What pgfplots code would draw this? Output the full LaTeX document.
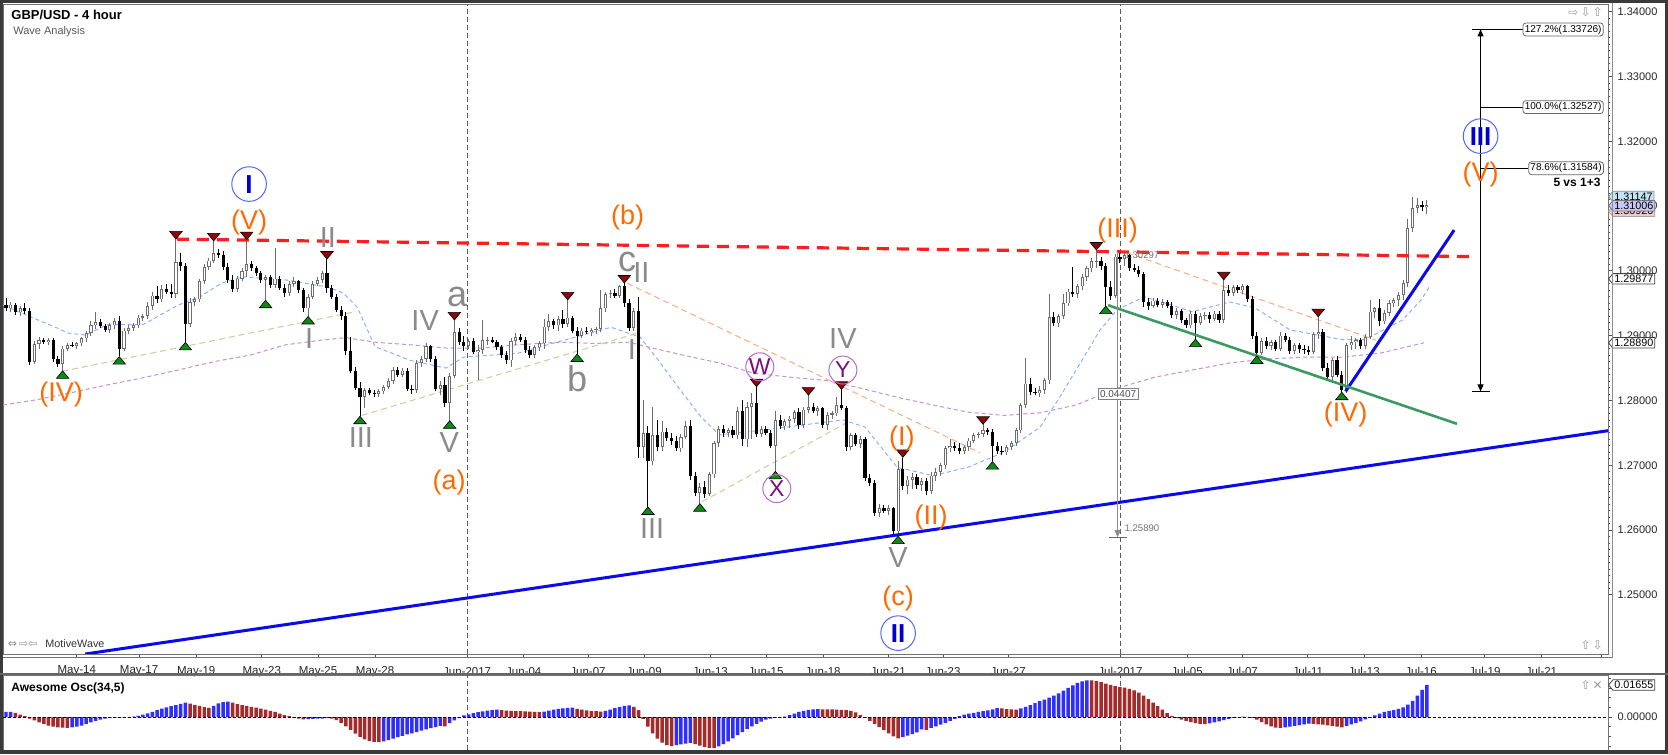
\documentclass[border=0pt]{standalone}
\usepackage{pgfplots}
\pgfplotsset{compat=1.18}
\usepackage{pgfplotstable}
\usepackage{fontspec}
\setmainfont{Liberation Sans}
\newfontfamily\symf{DejaVu Sans}
\usetikzlibrary{shapes.symbols,arrows.meta}

\definecolor{upgray}{HTML}{6E6E6E}
\definecolor{wred}{HTML}{FF1E1E}
\definecolor{tblue}{HTML}{0A0AEB}
\definecolor{tgreen}{HTML}{3C9A60}
\definecolor{worange}{HTML}{FF6A00}
\definecolor{wgray}{HTML}{8A8A8A}
\definecolor{wpurple}{HTML}{7E0A7E}
\definecolor{cpurple}{HTML}{B86CC8}
\definecolor{cblue}{HTML}{5068FF}
\definecolor{nblue}{HTML}{0000D0}
\definecolor{maBlue}{HTML}{8CB2FF}
\definecolor{maPurple}{HTML}{C88ED8}
\definecolor{peach}{HTML}{FFB088}
\definecolor{tancol}{HTML}{D6CE9A}
\definecolor{trigreen}{HTML}{0E8A16}
\definecolor{trired}{HTML}{8C0A0A}
\definecolor{aoblue}{HTML}{2E2EFF}
\definecolor{aored}{HTML}{A52A2A}
\definecolor{framedark}{HTML}{3A3A3A}
\definecolor{tagblue}{HTML}{C4E4F4}
\definecolor{taglav}{HTML}{C8C8F8}
\definecolor{tagpink}{HTML}{F4C8C8}

\pgfplotstableread{
o h l c
1.2948 1.2958 1.2938 1.2942
1.2942 1.2952 1.2936 1.2948
1.2948 1.2950 1.2932 1.2936
1.2936 1.2946 1.2930 1.2942
1.2942 1.2950 1.2934 1.2938
1.2938 1.2942 1.2855 1.2860
1.2860 1.2892 1.2856 1.2887
1.2887 1.2898 1.2880 1.2893
1.2893 1.2896 1.2887 1.2890
1.2890 1.2896 1.2886 1.2893
1.2893 1.2897 1.2860 1.2864
1.2864 1.2868 1.2852 1.2856
1.2856 1.2884 1.2846 1.2880
1.2880 1.2888 1.2876 1.2886
1.2886 1.2890 1.2882 1.2884
1.2884 1.2890 1.2880 1.2888
1.2888 1.2898 1.2884 1.2896
1.2896 1.2908 1.2890 1.2904
1.2904 1.2922 1.2900 1.2916
1.2916 1.2936 1.2910 1.2921
1.2921 1.2925 1.2912 1.2915
1.2915 1.2918 1.2906 1.2909
1.2909 1.2920 1.2904 1.2916
1.2916 1.2928 1.2910 1.2922
1.2922 1.2930 1.2868 1.2880
1.2880 1.2912 1.2876 1.2908
1.2908 1.2916 1.2902 1.2912
1.2912 1.2920 1.2908 1.2916
1.2916 1.2932 1.2912 1.2928
1.2928 1.2934 1.2922 1.2930
1.2930 1.2952 1.2926 1.2946
1.2946 1.2968 1.2940 1.2962
1.2962 1.2976 1.2950 1.2956
1.2956 1.2978 1.2952 1.2972
1.2972 1.2980 1.2964 1.2968
1.2968 1.2980 1.2958 1.2964
1.2964 1.3049 1.2958 1.3014
1.3014 1.3027 1.3000 1.3008
1.3008 1.3012 1.2890 1.2918
1.2918 1.2958 1.2914 1.2952
1.2952 1.2960 1.2946 1.2956
1.2956 1.2988 1.2952 1.2984
1.2984 1.3010 1.2980 1.3006
1.3006 1.3020 1.3002 1.3016
1.3016 1.3046 1.3012 1.3028
1.3028 1.3034 1.3020 1.3024
1.3024 1.3030 1.3002 1.3006
1.3006 1.3012 1.2982 1.2986
1.2986 1.2994 1.2968 1.2972
1.2972 1.2992 1.2968 1.2988
1.2988 1.3004 1.2984 1.3000
1.3000 1.3048 1.2990 1.3010
1.3010 1.3016 1.3000 1.3004
1.3004 1.3008 1.2992 1.2996
1.2996 1.3000 1.2982 1.2986
1.2986 1.2994 1.2955 1.2990
1.2990 1.2994 1.2974 1.2978
1.2978 1.3035 1.2974 1.2988
1.2988 1.2992 1.2970 1.2974
1.2974 1.2980 1.2960 1.2966
1.2966 1.2984 1.2962 1.2980
1.2980 1.2990 1.2975 1.2984
1.2984 1.2986 1.2966 1.2970
1.2970 1.2974 1.2936 1.2942
1.2942 1.2964 1.2930 1.2960
1.2960 1.2984 1.2956 1.2980
1.2980 1.2990 1.2976 1.2986
1.2986 1.3000 1.2982 1.2996
1.2996 1.3018 1.2966 1.2974
1.2974 1.2978 1.2956 1.2960
1.2960 1.2964 1.2936 1.2940
1.2940 1.2946 1.2924 1.2930
1.2930 1.2936 1.2870 1.2876
1.2876 1.2898 1.2842 1.2846
1.2846 1.2852 1.2816 1.2820
1.2820 1.2828 1.2776 1.2806
1.2806 1.2820 1.2788 1.2816
1.2816 1.2820 1.2808 1.2812
1.2812 1.2816 1.2806 1.2810
1.2810 1.2818 1.2806 1.2814
1.2814 1.2824 1.2810 1.2821
1.2821 1.2834 1.2818 1.2830
1.2830 1.2852 1.2826 1.2847
1.2847 1.2852 1.2836 1.2840
1.2840 1.2850 1.2836 1.2846
1.2846 1.2850 1.2814 1.2818
1.2818 1.2824 1.2810 1.2816
1.2816 1.2862 1.2812 1.2858
1.2858 1.2868 1.2852 1.2864
1.2864 1.2889 1.2860 1.2884
1.2884 1.2886 1.2860 1.2864
1.2864 1.2868 1.2814 1.2818
1.2818 1.2830 1.2808 1.2824
1.2824 1.2836 1.2790 1.2796
1.2796 1.2842 1.2769 1.2838
1.2838 1.2924 1.2834 1.2906
1.2906 1.2912 1.2885 1.2890
1.2890 1.2900 1.2876 1.2884
1.2884 1.2895 1.2880 1.2892
1.2892 1.2896 1.2872 1.2875
1.2875 1.2886 1.2832 1.2878
1.2878 1.2924 1.2872 1.2893
1.2893 1.2898 1.2886 1.2894
1.2894 1.2898 1.2888 1.2890
1.2890 1.2894 1.2878 1.2882
1.2882 1.2886 1.2866 1.2870
1.2870 1.2876 1.2856 1.2862
1.2862 1.2896 1.2852 1.2892
1.2892 1.2904 1.2886 1.2898
1.2898 1.2902 1.2890 1.2894
1.2894 1.2898 1.2874 1.2878
1.2878 1.2884 1.2866 1.2870
1.2870 1.2886 1.2866 1.2882
1.2882 1.2892 1.2876 1.2888
1.2888 1.2926 1.2880 1.2914
1.2914 1.2934 1.2908 1.2922
1.2922 1.2926 1.2910 1.2916
1.2916 1.2930 1.2908 1.2926
1.2926 1.2940 1.2912 1.2918
1.2918 1.2955 1.2914 1.2928
1.2928 1.2930 1.2904 1.2908
1.2908 1.2914 1.2872 1.2900
1.2900 1.2912 1.2896 1.2908
1.2908 1.2914 1.2902 1.2906
1.2906 1.2912 1.2900 1.2909
1.2909 1.2914 1.2902 1.2910
1.2910 1.2970 1.2906 1.2942
1.2942 1.2968 1.2936 1.2964
1.2964 1.2970 1.2958 1.2966
1.2966 1.2972 1.2958 1.2962
1.2962 1.2978 1.2958 1.2976
1.2976 1.2981 1.2945 1.2950
1.2950 1.2956 1.2908 1.2912
1.2912 1.2942 1.2908 1.2938
1.2938 1.2960 1.2712 1.2728
1.2728 1.2801 1.2712 1.2750
1.2750 1.2760 1.2636 1.2706
1.2706 1.2790 1.2700 1.2746
1.2746 1.2770 1.2722 1.2728
1.2728 1.2768 1.2722 1.2752
1.2752 1.2758 1.2738 1.2742
1.2742 1.2750 1.2732 1.2738
1.2738 1.2745 1.2722 1.2726
1.2726 1.2748 1.2720 1.2744
1.2744 1.2768 1.2740 1.2760
1.2760 1.2770 1.2678 1.2684
1.2684 1.2690 1.2652 1.2658
1.2658 1.2672 1.2641 1.2666
1.2666 1.2676 1.2650 1.2656
1.2656 1.2690 1.2652 1.2686
1.2686 1.2738 1.2680 1.2734
1.2734 1.2760 1.2728 1.2756
1.2756 1.2762 1.2744 1.2750
1.2750 1.2758 1.2744 1.2754
1.2754 1.2760 1.2742 1.2746
1.2746 1.2790 1.2740 1.2784
1.2784 1.2800 1.2730 1.2740
1.2740 1.2798 1.2728 1.2790
1.2790 1.2812 1.2740 1.2796
1.2796 1.2821 1.2744 1.2748
1.2748 1.2760 1.2744 1.2756
1.2756 1.2760 1.2746 1.2750
1.2750 1.2754 1.2726 1.2730
1.2730 1.2784 1.2691 1.2770
1.2770 1.2778 1.2756 1.2760
1.2760 1.2772 1.2754 1.2768
1.2768 1.2776 1.2758 1.2772
1.2772 1.2786 1.2766 1.2782
1.2782 1.2788 1.2756 1.2762
1.2762 1.2790 1.2758 1.2786
1.2786 1.2808 1.2780 1.2790
1.2790 1.2796 1.2780 1.2784
1.2784 1.2792 1.2776 1.2788
1.2788 1.2790 1.2758 1.2762
1.2762 1.2782 1.2754 1.2778
1.2778 1.2784 1.2772 1.2780
1.2780 1.2806 1.2776 1.2793
1.2793 1.2817 1.2786 1.2788
1.2788 1.2792 1.2722 1.2728
1.2728 1.2750 1.2724 1.2746
1.2746 1.2750 1.2730 1.2733
1.2733 1.2745 1.2726 1.2740
1.2740 1.2744 1.2676 1.2681
1.2681 1.2686 1.2668 1.2672
1.2672 1.2678 1.2622 1.2627
1.2627 1.2640 1.2620 1.2634
1.2634 1.2638 1.2626 1.2630
1.2630 1.2638 1.2624 1.2634
1.2634 1.2636 1.2594 1.2598
1.2598 1.2706 1.2591 1.2694
1.2694 1.2712 1.2662 1.2668
1.2668 1.2684 1.2656 1.2678
1.2678 1.2688 1.2664 1.2682
1.2682 1.2686 1.2664 1.2670
1.2670 1.2680 1.2660 1.2676
1.2676 1.2680 1.2654 1.2660
1.2660 1.2690 1.2655 1.2684
1.2684 1.2696 1.2676 1.2690
1.2690 1.2704 1.2684 1.2700
1.2700 1.2730 1.2694 1.2726
1.2726 1.2740 1.2720 1.2730
1.2730 1.2736 1.2722 1.2726
1.2726 1.2734 1.2718 1.2722
1.2722 1.2732 1.2718 1.2728
1.2728 1.2742 1.2722 1.2738
1.2738 1.2750 1.2734 1.2746
1.2746 1.2752 1.2742 1.2748
1.2748 1.2763 1.2744 1.2754
1.2754 1.2758 1.2746 1.2752
1.2752 1.2756 1.2706 1.2730
1.2730 1.2736 1.2718 1.2722
1.2722 1.2730 1.2716 1.2720
1.2720 1.2732 1.2716 1.2728
1.2728 1.2738 1.2724 1.2734
1.2734 1.2758 1.2730 1.2754
1.2754 1.2796 1.2750 1.2793
1.2793 1.2865 1.2788 1.2826
1.2826 1.2834 1.2808 1.2813
1.2813 1.2820 1.2808 1.2811
1.2811 1.2822 1.2806 1.2816
1.2816 1.2834 1.2810 1.2831
1.2831 1.2965 1.2826 1.2929
1.2929 1.2936 1.2915 1.2919
1.2919 1.2934 1.2914 1.2930
1.2930 1.2965 1.2926 1.2950
1.2950 1.2972 1.2946 1.2968
1.2968 1.3006 1.2960 1.2964
1.2964 1.2980 1.2958 1.2976
1.2976 1.2995 1.2970 1.2991
1.2991 1.3008 1.2985 1.3004
1.3004 1.3020 1.2998 1.3015
1.3015 1.3032 1.3005 1.3016
1.3016 1.3022 1.3002 1.3008
1.3008 1.3012 1.2946 1.2975
1.2975 1.2985 1.2955 1.2962
1.2962 1.3026 1.2958 1.3022
1.3022 1.3030 1.3012 1.3018
1.3018 1.3028 1.3008 1.3024
1.3024 1.3026 1.3000 1.3004
1.3004 1.3010 1.2998 1.3002
1.3002 1.3008 1.2990 1.2995
1.2995 1.2998 1.2945 1.2952
1.2952 1.2958 1.2940 1.2946
1.2946 1.2958 1.2942 1.2954
1.2954 1.2958 1.2944 1.2948
1.2948 1.2956 1.2942 1.2952
1.2952 1.2955 1.2942 1.2946
1.2946 1.2952 1.2928 1.2932
1.2932 1.2942 1.2926 1.2938
1.2938 1.2941 1.2920 1.2924
1.2924 1.2928 1.2912 1.2916
1.2916 1.2938 1.2912 1.2934
1.2934 1.2938 1.2895 1.2920
1.2920 1.2935 1.2916 1.2930
1.2930 1.2936 1.2924 1.2932
1.2932 1.2936 1.2920 1.2926
1.2926 1.2938 1.2922 1.2934
1.2934 1.2938 1.2920 1.2924
1.2924 1.2986 1.2920 1.2970
1.2970 1.2978 1.2962 1.2966
1.2966 1.2978 1.2962 1.2975
1.2975 1.2978 1.2966 1.2970
1.2970 1.2980 1.2964 1.2976
1.2976 1.2978 1.2952 1.2956
1.2956 1.2962 1.2895 1.2900
1.2900 1.2906 1.2869 1.2874
1.2874 1.2896 1.2870 1.2892
1.2892 1.2898 1.2880 1.2884
1.2884 1.2894 1.2878 1.2890
1.2890 1.2894 1.2876 1.2880
1.2880 1.2906 1.2876 1.2900
1.2900 1.2904 1.2890 1.2894
1.2894 1.2898 1.2872 1.2876
1.2876 1.2888 1.2872 1.2885
1.2885 1.2888 1.2874 1.2880
1.2880 1.2886 1.2872 1.2878
1.2878 1.2884 1.2870 1.2875
1.2875 1.2906 1.2872 1.2902
1.2902 1.2929 1.2895 1.2906
1.2906 1.2910 1.2845 1.2850
1.2850 1.2858 1.2830 1.2836
1.2836 1.2866 1.2832 1.2862
1.2862 1.2868 1.2836 1.2840
1.2840 1.2846 1.2813 1.2816
1.2816 1.2888 1.2812 1.2885
1.2885 1.2900 1.2878 1.2890
1.2890 1.2896 1.2880 1.2893
1.2893 1.2897 1.2880 1.2884
1.2884 1.2902 1.2880 1.2898
1.2898 1.2955 1.2895 1.2937
1.2937 1.2945 1.2928 1.2942
1.2942 1.2956 1.2915 1.2922
1.2922 1.2940 1.2918 1.2935
1.2935 1.2955 1.2930 1.2950
1.2950 1.2958 1.2945 1.2955
1.2955 1.2968 1.2946 1.2963
1.2963 1.2986 1.2955 1.2981
1.2981 1.3080 1.2975 1.3066
1.3066 1.3114 1.3060 1.3097
1.3097 1.3112 1.3090 1.3102
1.3102 1.3108 1.3092 1.3098
1.3098 1.3110 1.3088 1.3101
}\candles

\pgfplotstableread{
v c
0.0026 1
0.0027 1
0.0022 0
0.0012 0
0.0004 0
-0.0008 0
-0.0018 0
-0.0028 0
-0.0036 0
-0.0044 0
-0.0050 0
-0.0054 0
-0.0055 0
-0.0056 0
-0.0054 1
-0.0050 1
-0.0044 1
-0.0036 1
-0.0028 1
-0.0020 1
-0.0014 1
-0.0008 1
-0.0004 1
-0.0005 0
-0.0004 1
-0.0003 1
-0.0001 1
0.0002 1
0.0006 1
0.0012 1
0.0019 1
0.0027 1
0.0035 1
0.0043 1
0.0050 1
0.0056 1
0.0062 1
0.0068 1
0.0074 1
0.0069 0
0.0063 0
0.0057 0
0.0051 0
0.0047 0
0.0058 1
0.0070 1
0.0077 1
0.0079 1
0.0074 0
0.0067 0
0.0061 0
0.0057 0
0.0053 0
0.0048 0
0.0043 0
0.0038 0
0.0032 0
0.0026 0
0.0018 0
0.0010 0
0.0004 0
-0.0004 0
-0.0008 0
-0.0012 0
-0.0011 1
-0.0010 1
-0.0009 1
-0.0008 1
-0.0006 1
-0.0008 0
-0.0016 0
-0.0030 0
-0.0048 0
-0.0067 0
-0.0086 0
-0.0103 0
-0.0116 0
-0.0124 0
-0.0129 0
-0.0130 0
-0.0126 1
-0.0120 1
-0.0112 1
-0.0104 1
-0.0097 1
-0.0090 1
-0.0084 1
-0.0078 1
-0.0071 1
-0.0064 1
-0.0058 1
-0.0052 1
-0.0046 1
-0.0049 0
-0.0032 1
-0.0018 1
-0.0006 1
0.0008 1
0.0014 1
0.0020 1
0.0025 1
0.0029 1
0.0033 1
0.0036 1
0.0038 1
0.0035 0
0.0033 0
0.0032 0
0.0031 0
0.0030 0
0.0029 0
0.0028 0
0.0027 0
0.0025 0
0.0028 1
0.0033 1
0.0038 1
0.0042 1
0.0045 1
0.0047 1
0.0048 1
0.0042 0
0.0038 0
0.0034 0
0.0031 0
0.0030 0
0.0028 0
0.0032 1
0.0038 1
0.0046 1
0.0053 1
0.0058 1
0.0060 1
0.0052 0
0.0036 0
-0.0010 0
-0.0050 0
-0.0085 0
-0.0112 0
-0.0132 0
-0.0145 0
-0.0150 0
-0.0146 1
-0.0142 1
-0.0138 1
-0.0134 1
-0.0140 0
-0.0148 0
-0.0154 0
-0.0159 0
-0.0161 0
-0.0152 1
-0.0140 1
-0.0126 1
-0.0110 1
-0.0094 1
-0.0078 1
-0.0062 1
-0.0048 1
-0.0036 1
-0.0024 1
-0.0014 1
-0.0008 1
-0.0005 1
-0.0003 1
0.0002 1
0.0010 1
0.0018 1
0.0026 1
0.0032 1
0.0037 1
0.0040 1
0.0041 1
0.0040 0
0.0039 0
0.0039 0
0.0038 0
0.0037 0
0.0036 0
0.0032 0
0.0024 0
0.0010 0
-0.0004 0
-0.0020 0
-0.0036 0
-0.0052 0
-0.0068 0
-0.0085 0
-0.0100 0
-0.0110 0
-0.0104 1
-0.0096 1
-0.0088 1
-0.0080 1
-0.0064 1
-0.0066 0
-0.0056 1
-0.0048 1
-0.0040 1
-0.0030 1
-0.0020 1
-0.0010 1
0.0004 1
0.0012 1
0.0018 1
0.0022 1
0.0026 1
0.0030 1
0.0034 1
0.0040 1
0.0046 1
0.0044 0
0.0041 0
0.0039 0
0.0038 0
0.0044 1
0.0052 1
0.0062 1
0.0072 1
0.0082 1
0.0090 1
0.0100 1
0.0110 1
0.0122 1
0.0136 1
0.0150 1
0.0164 1
0.0176 1
0.0184 1
0.0190 1
0.0189 0
0.0186 0
0.0180 0
0.0172 0
0.0166 0
0.0160 0
0.0156 0
0.0152 0
0.0146 0
0.0138 0
0.0126 0
0.0110 0
0.0092 0
0.0074 0
0.0056 0
0.0038 0
0.0020 0
0.0006 0
-0.0006 0
-0.0014 0
-0.0020 0
-0.0026 0
-0.0031 0
-0.0035 0
-0.0037 0
-0.0033 1
-0.0028 1
-0.0022 1
-0.0016 1
-0.0010 1
-0.0005 1
-0.0002 1
0.0002 1
0.0001 0
-0.0004 0
-0.0014 0
-0.0026 0
-0.0038 0
-0.0048 0
-0.0055 0
-0.0056 0
-0.0053 1
-0.0050 1
-0.0046 1
-0.0042 1
-0.0038 1
-0.0034 1
-0.0036 0
-0.0038 0
-0.0040 0
-0.0043 0
-0.0046 0
-0.0050 0
-0.0053 0
-0.0046 1
-0.0038 1
-0.0030 1
-0.0022 1
-0.0012 1
-0.0004 1
0.0008 1
0.0018 1
0.0026 1
0.0032 1
0.0036 1
0.0042 1
0.0050 1
0.0064 1
0.0084 1
0.0110 1
0.0140 1
0.0166 1
}\ao

\tikzset{
  wlab/.style={font=\fontsize{13.5}{14}\selectfont, text=worange, inner sep=0pt},
  glab/.style={font=\fontsize{14.5}{15}\selectfont, text=wgray, inner sep=0pt},
  gsml/.style={font=\fontsize{18}{19}\selectfont, text=wgray, inner sep=0pt},
  pcirc/.style={circle, draw=cpurple, line width=0.5pt, minimum size=14pt, inner sep=0pt, font=\fontsize{11.5}{12}\selectfont, text=wpurple},
  bcirc/.style={circle, draw=cblue, line width=0.5pt, minimum size=17.3pt, inner sep=0pt, font=\bfseries\fontsize{13}{14}\selectfont, text=nblue},
  fibbox/.style={draw=black!60, rounded corners=1.5pt, fill=white, anchor=west, inner sep=0.9pt, font=\fontsize{5}{5.5}\selectfont, line width=0.4pt},
  ptag/.style={signal, signal to=west, signal pointer angle=100, draw=black!75, fill=white, anchor=west, inner sep=0.7pt, font=\fontsize{5.4}{6}\selectfont, line width=0.4pt}
}

\begin{document}
\begin{tikzpicture}[x=1pt,y=1pt]
\fill[white] (0,0) rectangle (834,377);

\begin{axis}[
  at={(1.5pt,50pt)}, anchor=south west, scale only axis,
  width=802.5pt, height=325pt,
  xmin=-0.636, xmax=339.4, ymin=1.24088, ymax=1.341188,
  clip mode=individual,
  axis line style={draw=black!55, line width=0.4pt},
  xtick={15.0,28.2,40.3,54.2,66.1,78.2,97.7,109.7,123.3,135.2,149.2,161.0,173.1,186.9,198.5,212.3,236.1,250.2,261.9,275.8,287.7,299.8,313.3,325.3,338.1},
  xticklabels={May-14,May-17,May-19,May-23,May-25,May-28,Jun-2017,Jun-04,Jun-07,Jun-09,Jun-13,Jun-15,Jun-18,Jun-21,Jun-23,Jun-27,Jul-2017,Jul-05,Jul-07,Jul-11,Jul-13,Jul-16,Jul-19,Jul-21,},
  xtick pos=left, xtick align=outside,
  major tick length=2pt, minor tick length=1.2pt,
  tick style={black!70, line width=0.4pt},
  xticklabel style={font=\fontsize{5.75}{6}\selectfont, anchor=center, yshift=-6.6pt, text=black!85},
  ytick={1.25,1.26,1.27,1.28,1.29,1.30,1.31,1.32,1.33,1.34},
  minor y tick num=9,
  ytick pos=right, yticklabel pos=right, ytick align=outside,
  yticklabel style={font=\fontsize{5.5}{6}\selectfont, anchor=west, inner sep=0pt, xshift=2.6pt, text=black!85},
  yticklabel={\pgfmathprintnumber[fixed,fixed zerofill,precision=5,assume math mode=true]{\tick}},
  scaled y ticks=false,
]
% month separators
\addplot[black!65, dash pattern=on 2.5pt off 1.5pt, line width=0.45pt, forget plot] coordinates {(97.7,1.24088) (97.7,1.341188)};
\addplot[black!65, dash pattern=on 2.5pt off 1.5pt, line width=0.45pt, forget plot] coordinates {(236.1,1.24088) (236.1,1.341188)};

% moving averages
\addplot[maBlue, dash pattern=on 2pt off 1.5pt, line width=0.5pt, forget plot] coordinates {
(-0.6,1.2947) (10.8,1.2912) (13.1,1.2904) (16.9,1.2901) (21.4,1.2917) (29.0,1.2917) (36.4,1.2947) (41.1,1.2960) (45.6,1.2981) (50.2,1.2991) (59.3,1.2986) (68.2,1.2975) (71.4,1.2966) (74.4,1.2944) (78.2,1.2883) (85.6,1.2862) (93.2,1.2850) (97.0,1.2867) (108.5,1.2873) (116.7,1.2890) (128.2,1.2913) (134.3,1.2898) (138.1,1.2863) (143.4,1.2811) (147.2,1.2775) (151.1,1.2747) (160.0,1.2754) (177.3,1.2770) (182.0,1.2759) (188.8,1.2697) (196.4,1.2684) (203.8,1.2697) (211.4,1.2720) (219.1,1.2759) (222.9,1.2801) (226.7,1.2847) (231.8,1.2909) (235.4,1.2940) (241.1,1.2960) (245.8,1.2950) (251.3,1.2937) (259.3,1.2952) (264.6,1.2943) (272.0,1.2909) (283.1,1.2894) (287.9,1.2894) (295.8,1.2924) (299.8,1.2955) (301.5,1.2975)};
\addplot[maPurple, dash pattern=on 2pt off 1.5pt, line width=0.5pt, forget plot] coordinates {
(-0.6,1.2793) (6.4,1.2801) (13.8,1.2812) (21.4,1.2824) (29.0,1.2835) (36.4,1.2847) (44.1,1.2860) (51.7,1.2870) (59.3,1.2886) (66.7,1.2893) (72.0,1.2897) (78.2,1.2890) (85.6,1.2886) (93.2,1.2881) (100.8,1.2881) (108.5,1.2886) (117.4,1.2890) (124.6,1.2888) (132.0,1.2890) (135.8,1.2883) (143.4,1.2870) (151.1,1.2858) (158.5,1.2842) (166.1,1.2836) (173.7,1.2831) (181.1,1.2819) (188.8,1.2805) (196.4,1.2793) (203.8,1.2782) (211.4,1.2777) (219.1,1.2781) (226.7,1.2793) (235.4,1.2819) (243.4,1.2836) (251.3,1.2847) (259.3,1.2858) (267.2,1.2864) (275.2,1.2867) (283.1,1.2867) (291.1,1.2873) (300.4,1.2889)};

% thin dashed helper lines
\addplot[tancol, dash pattern=on 3pt off 2pt, line width=0.55pt, forget plot] coordinates {(11.9,1.2845) (73.3,1.2936)};
\addplot[tancol, dash pattern=on 3pt off 2pt, line width=0.55pt, forget plot] coordinates {(75.4,1.2777) (134.3,1.2905)};
\addplot[tancol, dash pattern=on 3pt off 2pt, line width=0.55pt, forget plot] coordinates {(147.5,1.2644) (179.2,1.2770)};
\addplot[peach, dash pattern=on 3pt off 2pt, line width=0.55pt, forget plot] coordinates {(131.6,1.2981) (206.4,1.2719)};
\addplot[peach, dash pattern=on 3pt off 2pt, line width=0.55pt, forget plot] coordinates {(237.5,1.3028) (290.3,1.2893)};

% candles: wicks
\addplot[draw=none, mark=none, forget plot, error bars/.cd, y dir=plus, y explicit, error mark=none,
  error bar style={draw=upgray, line width=0.5pt}]
  table[x expr={\thisrow{c}>=\thisrow{o} ? \coordindex : -3}, y=l, y error plus expr={\thisrow{h}-\thisrow{l}}] {\candles};
\addplot[draw=none, mark=none, forget plot, error bars/.cd, y dir=plus, y explicit, error mark=none,
  error bar style={draw=black, line width=0.5pt}]
  table[x expr={\thisrow{c}<\thisrow{o} ? \coordindex : -3}, y=l, y error plus expr={\thisrow{h}-\thisrow{l}}] {\candles};
% candles: bodies
\addplot[draw=none, mark=none, forget plot, error bars/.cd, y dir=plus, y explicit, error mark=none,
  error bar style={draw=upgray, line width=1.6pt}]
  table[x expr={\thisrow{c}>=\thisrow{o} ? \coordindex : -3}, y=o, y error plus expr={\thisrow{c}-\thisrow{o}}] {\candles};
\addplot[draw=none, mark=none, forget plot, error bars/.cd, y dir=plus, y explicit, error mark=none,
  error bar style={draw=white, line width=0.6pt}]
  table[x expr={\thisrow{c}>=\thisrow{o} ? \coordindex : -3}, y expr={\thisrow{o}+0.00012}, y error plus expr={max(\thisrow{c}-\thisrow{o}-0.00024,0)}] {\candles};
\addplot[draw=none, mark=none, forget plot, error bars/.cd, y dir=plus, y explicit, error mark=none,
  error bar style={draw=black, line width=1.6pt}]
  table[x expr={\thisrow{c}<\thisrow{o} ? \coordindex : -3}, y=c, y error plus expr={\thisrow{o}-\thisrow{c}}] {\candles};

% trend lines
\addplot[wred, line width=1.6pt, dash pattern=on 6pt off 4pt, forget plot] coordinates {(36.2,1.3049) (311.4,1.3022)};
\addplot[tblue, line width=1.5pt, forget plot] coordinates {(16.8,1.24088) (339.4,1.27534)};
\addplot[tblue, line width=1.5pt, forget plot] coordinates {(283.8,1.2814) (306.8,1.3063)};
\addplot[tgreen, line width=1.3pt, forget plot] coordinates {(233.5,1.2947) (307.4,1.2764)};

% swing markers
\addplot[only marks, mark=triangle*, mark size=3.6pt, mark options={fill=trigreen, draw=black, line width=0.3pt, yscale=0.7}, forget plot] coordinates {
(12,1.2838) (24,1.2860) (38,1.2882) (55,1.2947) (64,1.2922) (75,1.2768) (94,1.2761) (121,1.2864) (136,1.2628) (147,1.2633) (163,1.2683) (189,1.2583) (209,1.2698) (233,1.2938) (252,1.2887) (265,1.2861) (283,1.2805)};
\addplot[only marks, mark=triangle*, mark size=3.6pt, mark options={fill=trired, draw=black, line width=0.3pt, rotate=180, yscale=0.7}, forget plot] coordinates {
(36,1.3057) (44,1.3054) (51,1.3056) (68,1.3026) (95,1.2932) (119,1.2963) (131,1.2989) (159,1.2829) (170,1.2816) (177,1.2825) (190,1.2720) (207,1.2771) (231,1.3040) (258,1.2994) (278,1.2937)};

% measure tool
\addplot[black!45, line width=0.5pt, -{Triangle[length=3.5pt,width=3pt]}, forget plot] coordinates {(235.5,1.30297) (235.5,1.2589)};
\addplot[black!60, line width=0.5pt, forget plot] coordinates {(233.7,1.2589) (237.5,1.2589)};
\node[draw=black!50, fill=white, inner sep=0.9pt, font=\fontsize{5}{5.5}\selectfont, text=black!70] at (axis cs:235.6,1.2810) {0.04407};
\node[anchor=west, inner sep=0pt, font=\fontsize{4.8}{5}\selectfont, text=black!55] at (axis cs:236.9,1.2603) {1.25890};
\node[anchor=west, inner sep=0pt, font=\fontsize{4.8}{5}\selectfont, text=black!55] at (axis cs:236.9,1.3024) {1.30297};

% fibonacci projection
\addplot[black, line width=0.5pt, {Triangle[length=3.5pt,width=3pt]}-{Triangle[length=3.5pt,width=3pt]}, forget plot] coordinates {(312.4,1.28140) (312.4,1.33726)};
\addplot[black, line width=0.6pt, forget plot] coordinates {(310.6,1.33726) (314.3,1.33726)};
\addplot[black, line width=0.6pt, forget plot] coordinates {(310.6,1.28140) (314.3,1.28140)};
\addplot[black, line width=0.45pt, forget plot] coordinates {(312.4,1.33726) (321.3,1.33726)};
\addplot[black, line width=0.45pt, forget plot] coordinates {(312.4,1.32527) (321.3,1.32527)};
\addplot[black, line width=0.45pt, forget plot] coordinates {(312.4,1.31584) (322.5,1.31584)};
\node[fibbox] at (axis cs:321.3,1.33726) {127.2\%(1.33726)};
\node[fibbox] at (axis cs:321.3,1.32527) {100.0\%(1.32527)};
\node[fibbox] at (axis cs:322.5,1.31584) {78.6\%(1.31584)};
\node[anchor=east, inner sep=0pt, font=\bfseries\fontsize{6}{6.5}\selectfont] at (axis cs:337.9,1.3137) {5 vs 1+3};

% orange wave labels
\node[wlab] at (axis cs:11.7,1.2809) {(IV)};
\node[wlab] at (axis cs:51.5,1.3074) {(V)};
\node[wlab] at (axis cs:93.9,1.2673) {(a)};
\node[wlab] at (axis cs:131.7,1.3083) {(b)};
\node[wlab] at (axis cs:189.8,1.2742) {(I)};
\node[wlab] at (axis cs:196,1.2619) {(II)};
\node[wlab] at (axis cs:189,1.2495) {(c)};
\node[wlab] at (axis cs:235.5,1.3063) {(III)};
\node[wlab] at (axis cs:283.8,1.2778) {(IV)};
\node[wlab] at (axis cs:312.4,1.3148) {(V)};

% gray wave labels
\node[glab] at (axis cs:68.2,1.3051) {II};
\node[glab] at (axis cs:64.2,1.2896) {I};
\node[glab] at (axis cs:75.2,1.2743) {III};
\node[glab] at (axis cs:88.8,1.2924) {IV};
\node[glab] at (axis cs:93.9,1.2735) {V};
\node[gsml] at (axis cs:95.6,1.2960) {a};
\node[gsml] at (axis cs:121,1.2834) {b};
\node[gsml] at (axis cs:131.6,1.3014) {c};
\node[glab] at (axis cs:134.6,1.2997) {II};
\node[glab] at (axis cs:132.6,1.2878) {I};
\node[glab] at (axis cs:136.9,1.2603) {III};
\node[glab] at (axis cs:177.3,1.2896) {IV};
\node[glab] at (axis cs:189,1.2557) {V};

% circled labels
\node[pcirc] at (axis cs:159.7,1.2852) {W};
\node[pcirc] at (axis cs:163.3,1.2664) {X};
\node[pcirc] at (axis cs:177.3,1.2847) {Y};
\node[bcirc] at (axis cs:51.5,1.3134) {I};
\node[bcirc] at (axis cs:189,1.2441) {II};
\node[bcirc] at (axis cs:312.4,1.3208) {III};

% price tags on the right scale
\node[ptag, fill=tagblue, draw=black!45] at (axis cs:339.4,1.31147) {1.31147};
\node[ptag, fill=tagpink, draw=black!35] at (axis cs:339.4,1.30920) {1.30920};
\node[ptag, fill=taglav, draw=black!55] at (axis cs:339.4,1.31006) {1.31006};
\node[ptag] at (axis cs:339.4,1.29877) {1.29877};
\node[ptag] at (axis cs:339.4,1.28890) {1.28890};
\end{axis}

% Awesome oscillator panel
\begin{axis}[
  at={(1.5pt,2pt)}, anchor=south west, scale only axis,
  width=802.5pt, height=37.5pt,
  xmin=-0.636, xmax=339.4, ymin=-0.01706, ymax=0.02172,
  clip mode=individual,
  axis line style={draw=black!55, line width=0.4pt},
  xtick=\empty,
  ytick={0}, yticklabels={0.00000},
  minor ytick={-0.015,-0.01,-0.005,0.005,0.01,0.015,0.02},
  ytick pos=right, yticklabel pos=right, ytick align=outside,
  major tick length=2pt, minor tick length=1.5pt,
  tick style={black!70, line width=0.4pt},
  yticklabel style={font=\fontsize{5.5}{6}\selectfont, anchor=west, inner sep=0pt, xshift=2.6pt, text=black!85},
  scaled y ticks=false,
]
\addplot[black!65, dash pattern=on 2.5pt off 1.5pt, line width=0.45pt, forget plot] coordinates {(97.7,-0.01706) (97.7,0.02172)};
\addplot[black!65, dash pattern=on 2.5pt off 1.5pt, line width=0.45pt, forget plot] coordinates {(236.1,-0.01706) (236.1,0.02172)};
\addplot[ybar, bar width=0.74, bar shift=0pt, fill=aoblue, draw=none, forget plot]
  table[x expr=\coordindex, y expr={\thisrow{v}*\thisrow{c}}] {\ao};
\addplot[ybar, bar width=0.74, bar shift=0pt, fill=aored, draw=none, forget plot]
  table[x expr=\coordindex, y expr={\thisrow{v}*(1-\thisrow{c})}] {\ao};
\addplot[black, dash pattern=on 1.5pt off 1pt, line width=0.45pt, forget plot] coordinates {(-0.6,0) (339.4,0)};
\node[anchor=west, inner sep=0pt, font=\bfseries\fontsize{6}{6.5}\selectfont] at (axis cs:1.06,0.0150) {Awesome Osc(34,5)};
\node[ptag] at (axis cs:339.4,0.01655) {0.01655};
\end{axis}

% frame and chrome
\fill[framedark] (0,375.5) rectangle (834,377);
\fill[framedark] (0,0) rectangle (1.5,377);
\fill[framedark] (832.3,0) rectangle (834,377);
\fill[framedark] (0,0) rectangle (834,1.8);
\fill[black!60] (0,39.6) rectangle (834,40.6);
\draw[black!55, line width=0.5pt] (1.5,48) -- (806,48);
\draw[black!45, line width=0.4pt] (806,48) -- (806,375.5);

\node[anchor=west, inner sep=0pt, font=\bfseries\fontsize{6.5}{7}\selectfont] at (5.5,369.5) {GBP/USD - 4 hour};
\node[anchor=west, inner sep=0pt, font=\fontsize{5.5}{6}\selectfont, text=black!65] at (6.5,361) {Wave Analysis};
\node[anchor=west, inner sep=0pt, font=\symf\fontsize{5.5}{6}\selectfont, text=black!45] at (3.8,55) {⇔\,⇨⇦};
\node[anchor=west, inner sep=0pt, font=\fontsize{5.4}{6}\selectfont, text=black!80] at (22.5,55) {MotiveWave};
\node[anchor=east, inner sep=0pt, font=\symf\fontsize{6}{6.5}\selectfont, text=black!40] at (801.5,371) {⇨\,⇩\,⇧};
\node[anchor=east, inner sep=0pt, font=\symf\fontsize{6}{6.5}\selectfont, text=black!40] at (801.5,54.5) {⇧\,⇩};
\node[anchor=east, inner sep=0pt, font=\symf\fontsize{6}{6.5}\selectfont, text=black!40] at (801.5,34.5) {⇧\,✕};

\pgfresetboundingbox
\useasboundingbox (0,0) rectangle (834,377);
\end{tikzpicture}
\end{document}
